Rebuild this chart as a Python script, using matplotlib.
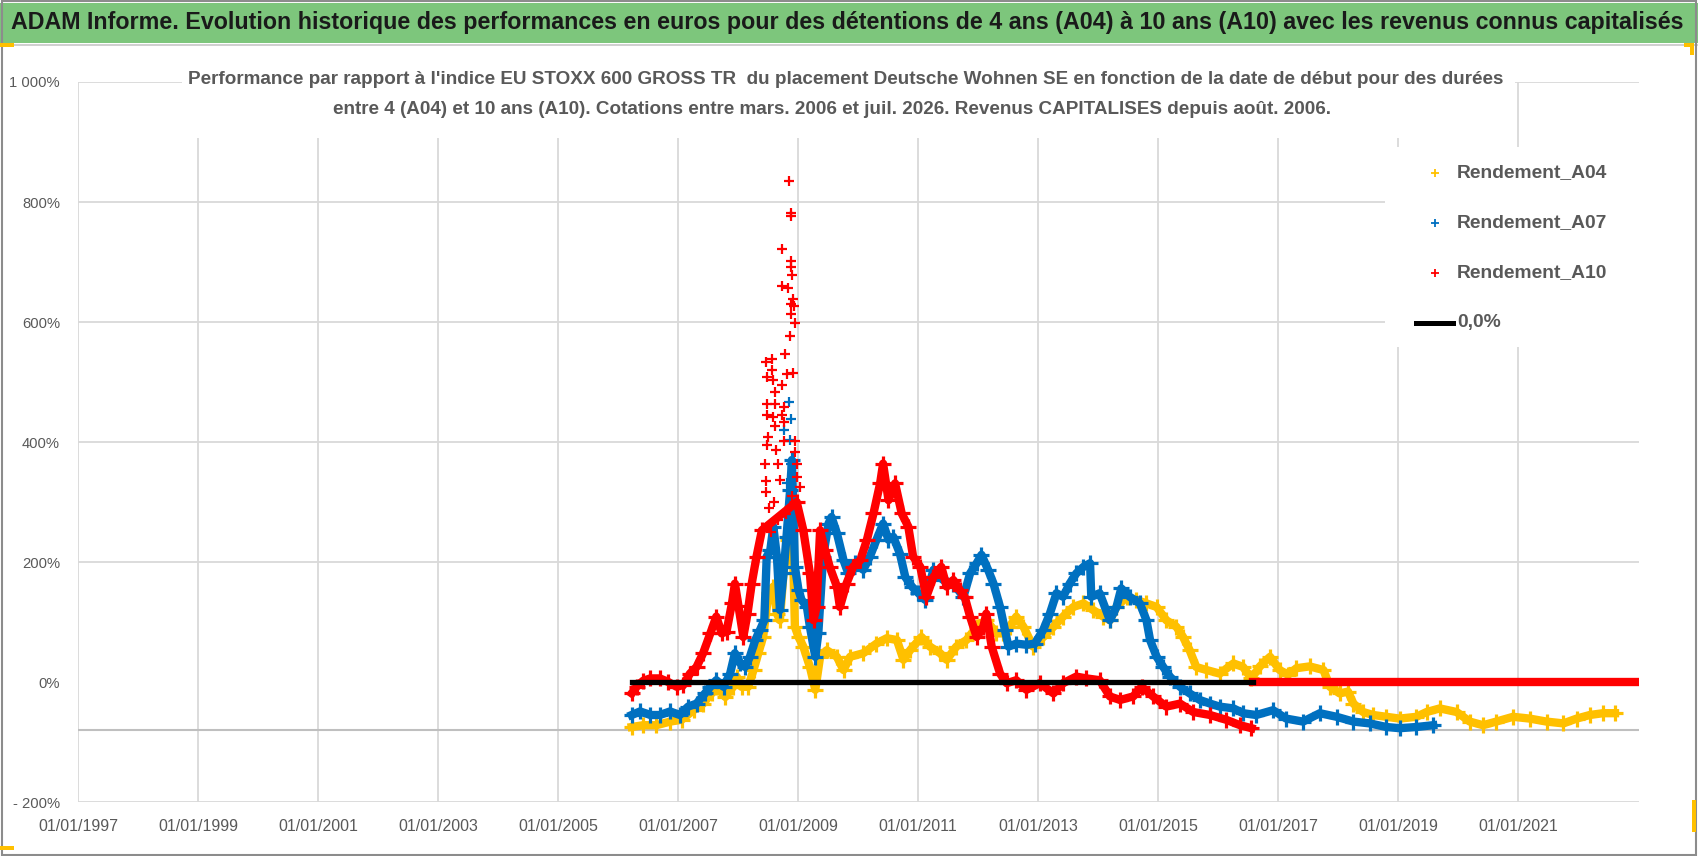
import matplotlib
matplotlib.use("Agg")
import matplotlib.pyplot as plt
from matplotlib.patches import Rectangle
from matplotlib.lines import Line2D

# --- data (start date as decimal year, performance in %) ---
a04 = [(2006.23, -75), (2006.42, -72), (2006.64, -72), (2006.87, -66), (2007.06, -63),
       (2007.26, -47), (2007.42, -36), (2007.56, -19), (2007.64, -8), (2007.79, -25),
       (2007.92, -8), (2007.98, 9), (2008.06, -8), (2008.17, -8), (2008.26, 20),
       (2008.34, 48), (2008.42, 75), (2008.51, 148), (2008.59, 159), (2008.65, 114),
       (2008.70, 103), (2008.76, 181), (2008.84, 237), (2008.90, 292), (2008.95, 92),
       (2009.01, 75), (2009.09, 59), (2009.20, 25), (2009.29, -13), (2009.37, 42),
       (2009.48, 53), (2009.65, 42), (2009.76, 20), (2009.87, 42), (2010.09, 48),
       (2010.31, 64), (2010.48, 73), (2010.65, 70), (2010.76, 37), (2010.87, 53),
       (2011.06, 75), (2011.20, 59), (2011.37, 48), (2011.48, 37), (2011.64, 59),
       (2011.81, 70), (2011.98, 92), (2012.14, 103), (2012.31, 81), (2012.42, 81),
       (2012.53, 92), (2012.64, 109), (2012.76, 92), (2012.92, 59), (2013.09, 75),
       (2013.26, 92), (2013.42, 109), (2013.59, 125), (2013.76, 131), (2013.92, 120),
       (2014.09, 109), (2014.20, 103), (2014.31, 125), (2014.48, 142), (2014.64, 137),
       (2014.81, 131), (2014.98, 125), (2015.14, 103), (2015.31, 92), (2015.42, 75),
       (2015.53, 53), (2015.64, 25), (2015.81, 20), (2016.03, 14), (2016.26, 31),
       (2016.42, 25), (2016.56, 6), (2016.70, 26), (2016.87, 42), (2017.03, 20),
       (2017.17, 12), (2017.31, 23), (2017.53, 26), (2017.76, 20), (2017.87, -8),
       (2018.03, -19), (2018.17, -16), (2018.26, -36), (2018.42, -50), (2018.59, -55),
       (2018.81, -58), (2019.03, -61), (2019.31, -58), (2019.48, -50), (2019.70, -44),
       (2019.98, -50), (2020.20, -66), (2020.42, -72), (2020.64, -66), (2020.92, -58),
       (2021.20, -61), (2021.48, -66), (2021.76, -69), (2021.98, -61), (2022.20, -55),
       (2022.42, -52), (2022.62, -52)]

a07 = [(2006.23, -55), (2006.37, -49), (2006.54, -55), (2006.70, -55), (2006.87, -49),
       (2007.03, -55), (2007.17, -41), (2007.31, -36), (2007.45, -19), (2007.54, -8),
       (2007.64, 3), (2007.76, -8), (2007.87, 14), (2007.95, 48), (2008.04, 31),
       (2008.12, 25), (2008.20, 42), (2008.29, 70), (2008.37, 87), (2008.44, 103),
       (2008.48, 209), (2008.54, 220), (2008.59, 259), (2008.65, 209), (2008.70, 120),
       (2008.76, 181), (2008.81, 242), (2008.87, 320), (2008.90, 370), (2008.95, 192),
       (2009.01, 153), (2009.06, 137), (2009.15, 125), (2009.20, 92), (2009.29, 42),
       (2009.34, 81), (2009.42, 209), (2009.51, 264), (2009.56, 275), (2009.65, 248),
       (2009.76, 203), (2009.84, 181), (2009.95, 198), (2010.09, 187), (2010.20, 209),
       (2010.31, 237), (2010.42, 264), (2010.51, 237), (2010.59, 242), (2010.70, 214),
       (2010.79, 175), (2010.90, 159), (2011.01, 148), (2011.12, 137), (2011.26, 187),
       (2011.42, 170), (2011.59, 164), (2011.76, 142), (2011.87, 181), (2011.98, 198),
       (2012.06, 212), (2012.17, 187), (2012.26, 164), (2012.37, 125), (2012.45, 87),
       (2012.51, 59), (2012.64, 64), (2012.81, 62), (2012.95, 64), (2013.09, 87),
       (2013.20, 114), (2013.31, 148), (2013.42, 142), (2013.53, 164), (2013.64, 181),
       (2013.76, 192), (2013.87, 198), (2013.89, 142), (2014.03, 148), (2014.20, 103),
       (2014.31, 125), (2014.39, 156), (2014.53, 142), (2014.70, 131), (2014.81, 103),
       (2014.87, 70), (2014.98, 42), (2015.09, 25), (2015.20, 9), (2015.37, -8),
       (2015.53, -19), (2015.70, -30), (2015.87, -36), (2016.03, -41), (2016.26, -44),
       (2016.42, -52), (2016.64, -55), (2016.92, -47), (2017.14, -61), (2017.42, -66),
       (2017.70, -52), (2017.98, -58), (2018.26, -66), (2018.53, -69), (2018.81, -75),
       (2019.03, -77), (2019.31, -75), (2019.59, -72)]

a10 = [(2006.23, -19), (2006.31, -8), (2006.42, 2), (2006.54, 6), (2006.70, 6),
       (2006.84, 0), (2006.98, -8), (2007.09, -5), (2007.20, 14), (2007.31, 25),
       (2007.42, 48), (2007.54, 81), (2007.64, 109), (2007.73, 81), (2007.81, 84),
       (2007.90, 131), (2007.95, 164), (2008.01, 126), (2008.09, 75), (2008.16, 114),
       (2008.23, 164), (2008.31, 209), (2008.40, 253), (2008.98, 300), (2009.09, 253),
       (2009.20, 181), (2009.26, 103), (2009.31, 125), (2009.37, 253), (2009.45, 220),
       (2009.53, 192), (2009.65, 159), (2009.70, 125), (2009.81, 164), (2009.92, 192),
       (2010.04, 203), (2010.15, 237), (2010.26, 281), (2010.37, 331), (2010.42, 364),
       (2010.51, 303), (2010.62, 331), (2010.73, 281), (2010.84, 259), (2010.92, 209),
       (2011.04, 192), (2011.14, 142), (2011.26, 175), (2011.39, 192), (2011.48, 159),
       (2011.59, 170), (2011.70, 153), (2011.78, 142), (2011.87, 109), (2011.98, 75),
       (2012.09, 92), (2012.14, 114), (2012.23, 59), (2012.37, 14), (2012.48, -2),
       (2012.64, 3), (2012.81, -13), (2013.03, -2), (2013.26, -19), (2013.42, -2),
       (2013.64, 9), (2013.81, 6), (2014.03, 3), (2014.20, -24), (2014.37, -30),
       (2014.59, -24), (2014.73, -8), (2014.92, -24), (2015.14, -41), (2015.37, -36),
       (2015.59, -50), (2015.87, -55), (2016.14, -63), (2016.37, -72), (2016.56, -77)]

# A10 has no data after mid-2016: shown as zeros
a10_tail = [(2016.59, 0), (2017.5, 0), (2018.5, 0), (2019.5, 0), (2020.5, 0),
            (2021.5, 0), (2022.5, 0), (2023.02, 0)]

# scattered points of the 2008 spike
a10_spike = [(2008.85, 835), (2008.88, 782), (2008.88, 776), (2008.74, 722), (2008.89, 701),
             (2008.88, 692), (2008.90, 678), (2008.74, 660), (2008.84, 656), (2008.92, 639),
             (2008.88, 630), (2008.94, 626), (2008.88, 614), (2008.95, 598), (2008.86, 576),
             (2008.78, 547), (2008.47, 533), (2008.57, 539), (2008.57, 520), (2008.48, 509),
             (2008.59, 503), (2008.74, 495), (2008.62, 484), (2008.81, 514), (2008.92, 515),
             (2008.48, 464), (2008.62, 463), (2008.76, 459), (2008.48, 445), (2008.59, 442),
             (2008.73, 445), (2008.62, 426), (2008.76, 434), (2008.50, 409), (2008.76, 401),
             (2008.95, 401), (2008.48, 395), (2008.64, 387), (2008.45, 364), (2008.67, 364),
             (2008.95, 384), (2008.99, 364), (2008.46, 335), (2008.70, 337), (2008.98, 342),
             (2008.47, 317), (2009.03, 325), (2008.52, 290), (2008.60, 300), (2008.66, 270),
             (2008.55, 250), (2008.80, 280), (2008.90, 310)]
a07_spike = [(2008.85, 467), (2008.88, 438), (2008.76, 420), (2008.87, 403), (2008.89, 364),
             (2008.92, 342), (2008.81, 331)]

zero_line = [(2006.23, 0), (2016.59, 0)]

y_ticks = [-200, 0, 200, 400, 600, 800, 1000]
y_labels = ["- 200%", "0%", "200%", "400%", "600%", "800%", "1 000%"]
x_ticks = list(range(1997, 2022, 2))
x_labels = ["01/01/%d" % y for y in x_ticks]
axis_cross = -80

legend_labels = ["Rendement_A04", "Rendement_A07", "Rendement_A10", "0,0%"]
title = ("ADAM Informe. Evolution historique des performances en euros pour des détentions "
         "de 4 ans (A04) à 10 ans (A10) avec les revenus connus capitalisés")
subtitle = ["Performance par rapport à l'indice EU STOXX 600 GROSS TR  du placement Deutsche "
            "Wohnen SE en fonction de la date de début pour des durées",
            "entre 4 (A04) et 10 ans (A10). Cotations entre mars. 2006 et juil. 2026. "
            "Revenus CAPITALISES depuis août. 2006."]

C04, C07, C10 = "#FFC000", "#0070C0", "#FF0000"
GRID = "#D9D9D9"
TXT = "#595959"
plt.rcParams["font.family"] = ["Liberation Sans Narrow", "DejaVu Sans Condensed",
                               "Liberation Sans", "DejaVu Sans"]

W, H = 1698, 856
fig = plt.figure(figsize=(W / 100, H / 100), dpi=100)


def fx(px):
    return px / W


def fy(py):
    return 1 - py / H


ax = fig.add_axes([fx(78), fy(802), fx(1639 - 78), (802 - 82) / H])
ax.set_xlim(1997, 2023.02)
ax.set_ylim(-200, 1000)
for s in ax.spines.values():
    s.set_visible(False)
ax.set_axisbelow(True)
ax.set_yticks(y_ticks)
ax.set_yticklabels(y_labels)
ax.set_xticks(x_ticks)
ax.set_xticklabels(x_labels)
ax.tick_params(length=0, colors=TXT)
ax.tick_params(axis="y", labelsize=11, pad=13)
ax.tick_params(axis="x", labelsize=13, pad=12)
ax.grid(True, color=GRID, lw=1.3)
ax.yaxis.get_gridlines()[1].set_visible(False)  # no gridline at 0 %
ax.axhline(axis_cross, color="#BFBFBF", lw=1.5, zorder=1)

# white boxes behind the chart title and the legend (they hide the gridlines)
ax.add_patch(Rectangle((fx(182), fy(138)), fx(1515 - 182), (138 - 66) / H,
                       transform=fig.transFigure, facecolor="white", edgecolor="none",
                       zorder=1, clip_on=False))
ax.add_patch(Rectangle((fx(1385), fy(347)), fx(1665 - 1385), (347 - 147) / H,
                       transform=fig.transFigure, facecolor="white", edgecolor="none",
                       zorder=1, clip_on=False))


def plot_series(data, color, z):
    xs = [d[0] for d in data]
    ys = [d[1] for d in data]
    ax.plot(xs, ys, color=color, lw=6, marker="+", ms=11, mew=2.3, zorder=z)


def plot_points(data, color, z):
    xs = [d[0] for d in data]
    ys = [d[1] for d in data]
    ax.plot(xs, ys, ls="none", color=color, marker="+", ms=7, mew=1.6, zorder=z)


plot_series(a04, C04, 3)
plot_series(a07, C07, 4)
plot_points(a07_spike, C07, 4)
plot_series(a10, C10, 5)
plot_points(a10_spike, C10, 5)
ax.plot([d[0] for d in a10_tail], [d[1] for d in a10_tail], color=C10, lw=6, zorder=5)
ax.plot([d[0] for d in zero_line], [d[1] for d in zero_line], color="black", lw=3.8, zorder=6)

# legend, drawn at its place in the reference
leg_rows = [173, 223, 273, 323]
leg_texts = []
for (lab, col, row) in zip(legend_labels, [C04, C07, C10, "black"], leg_rows):
    if col == "black":
        fig.add_artist(Line2D([fx(1416), fx(1453)], [fy(row), fy(row)], color=col, lw=3.6))
    else:
        fig.add_artist(Line2D([fx(1435)], [fy(row)], ls="none", marker="+", color=col,
                              ms=6, mew=1.3))
    leg_texts.append(fig.text(fx(1457), fy(row), lab, ha="left", va="center", fontsize=15,
                              fontweight="bold", color=TXT))

# header bar
fig.patches.append(Rectangle((0, fy(43)), 1, (43 - 3) / H, transform=fig.transFigure,
                             facecolor="#7DC67C", edgecolor="none", zorder=0))
fig.patches.append(Rectangle((0, fy(46)), 1, 1.5 / H, transform=fig.transFigure,
                             facecolor="#D0D0D0", edgecolor="none", zorder=0))
fig.patches.append(Rectangle((0.001, 0.001), 0.998, 0.998, transform=fig.transFigure,
                             fill=False, edgecolor="#8C8C8C", lw=1.5, zorder=0))
for x0, y0, w, h in [(0, 43, 14, 4), (1684, 43, 10, 4), (1690, 43, 4, 12),
                     (1692, 800, 4, 32), (0, 846, 14, 4)]:
    fig.patches.append(Rectangle((fx(x0), fy(y0 + h)), fx(w), h / H,
                                 transform=fig.transFigure, facecolor="#FFC000",
                                 edgecolor="none", zorder=0))

t_title = fig.text(fx(847), fy(23), title, ha="center", va="center", fontsize=18,
                   fontweight="bold", color="#1A1A1A")
t_sub1 = fig.text(fx(846), fy(80), subtitle[0], ha="center", va="center", fontsize=15,
                  fontweight="bold", color=TXT, zorder=3)
t_sub2 = fig.text(fx(832), fy(110), subtitle[1], ha="center", va="center", fontsize=15,
                  fontweight="bold", color=TXT, zorder=3)

# scale the font sizes so that the texts take the widths they have in the reference
fig.canvas.draw()
rend = fig.canvas.get_renderer()


def fitted(t, target):
    return t.get_fontsize() * target / t.get_window_extent(rend).width


t_title.set_fontsize(fitted(t_title, 1673))
s = fitted(t_sub1, 1318)
t_sub1.set_fontsize(s)
t_sub2.set_fontsize(s)
s = fitted(leg_texts[0], 151)
for t in leg_texts:
    t.set_fontsize(s)
ax.tick_params(axis="x", labelsize=fitted(ax.get_xticklabels()[0], 80))
ax.tick_params(axis="y", labelsize=fitted(ax.get_yticklabels()[-1], 50))

fig.savefig("out.png", dpi=100)
